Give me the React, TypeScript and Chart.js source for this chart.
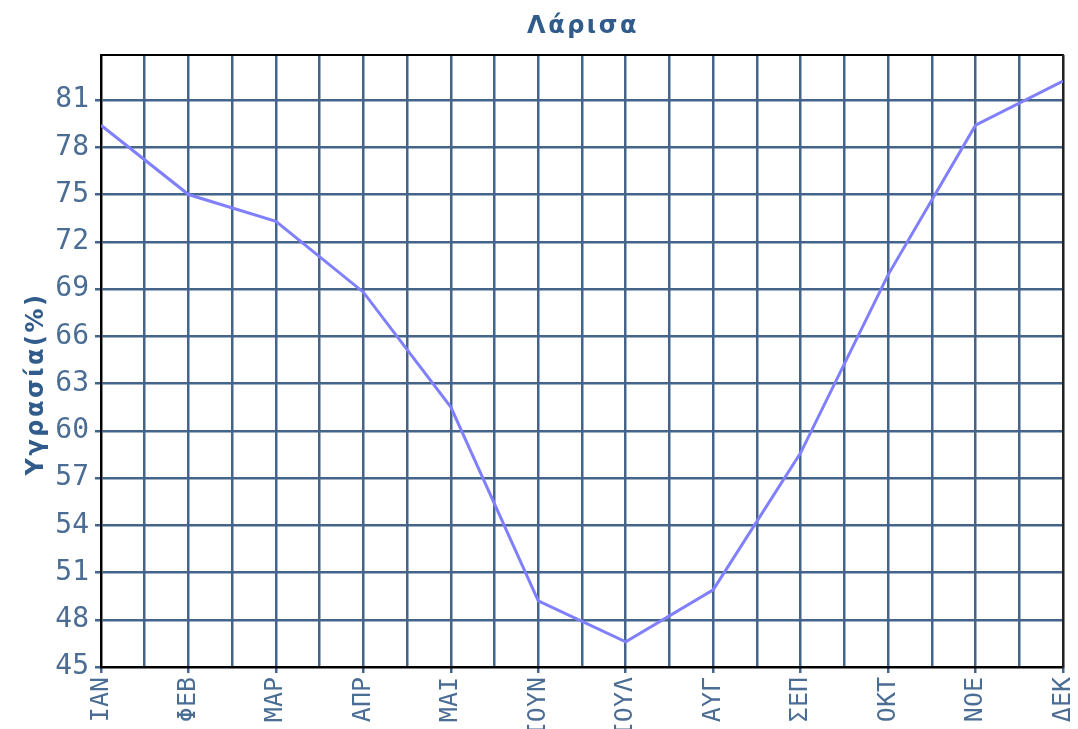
import React, { useEffect, useRef } from "react";
import { Chart, registerables } from "chart.js";

Chart.register(...registerables);

const chartTitle = "Λάρισα";
const yTitle = "Υγρασία(%)";
const months = ["ΙΑΝ", "ΦΕΒ", "ΜΑΡ", "ΑΠΡ", "ΜΑΙ", "ΙΟΥΝ", "ΙΟΥΛ", "ΑΥΓ", "ΣΕΠ", "ΟΚΤ", "ΝΟΕ", "ΔΕΚ"];
const humidity = [79.4, 75.0, 73.3, 68.8, 61.5, 49.2, 46.6, 49.9, 58.6, 69.9, 79.4, 82.2];
const yMin = 45;
const yMax = 83.86;
const yStep = 3;

const gridColor = "#45648a";
const tickColor = "#4b6d94";
const titleColor = "#305b8a";
const lineColor = "#8080ff";

const titlesPlugin = {
  id: "customTitles",
  afterDraw(chart: any) {
    const { ctx, chartArea } = chart;
    ctx.save();
    ctx.fillStyle = titleColor;
    ctx.font = 'bold 24px "DejaVu Sans"';
    (ctx as any).letterSpacing = "2.5px";
    ctx.textAlign = "center";
    ctx.textBaseline = "alphabetic";
    ctx.fillText(chartTitle, (chartArea.left + chartArea.right) / 2 + 1, chartArea.top - 22);
    ctx.restore();

    ctx.save();
    ctx.fillStyle = titleColor;
    ctx.font = 'bold 24px "DejaVu Sans"';
    (ctx as any).letterSpacing = "2.5px";
    ctx.textAlign = "center";
    ctx.textBaseline = "alphabetic";
    ctx.translate(chartArea.left - 58, (chartArea.top + chartArea.bottom) / 2 + 23);
    ctx.rotate(-Math.PI / 2);
    ctx.fillText(yTitle, 0, 0);
    ctx.restore();
  },
};

export default function App() {
  const ref = useRef<HTMLCanvasElement | null>(null);

  useEffect(() => {
    if (!ref.current) return;
    const chart = new Chart(ref.current, {
      type: "line",
      data: {
        datasets: [
          {
            data: humidity.map((v, i) => ({ x: i, y: v })),
            borderColor: lineColor,
            borderWidth: 3,
            pointRadius: 0,
            tension: 0,
            fill: false,
          },
        ],
      },
      options: {
        animation: false,
        responsive: false,
        devicePixelRatio: 1,
        layout: { padding: { top: 55, right: 15, left: 0, bottom: 0 } },
        plugins: {
          legend: { display: false },
          tooltip: { enabled: false },
          title: { display: false },
        },
        scales: {
          x: {
            type: "linear",
            position: "bottom",
            min: 0,
            max: months.length - 1,
            afterFit: (s: any) => {
              s.height = 62;
            },
            ticks: {
              stepSize: 0.5,
              autoSkip: false,
              minRotation: 90,
              maxRotation: 90,
              padding: 4,
              color: tickColor,
              font: { family: '"DejaVu Sans Mono"', size: 25, lineHeight: 0 },
              callback: (v: any) => (Number.isInteger(v) ? months[v] : ""),
            },
            grid: {
              color: (c: any) =>
                c.tick && (c.tick.value === 0 || c.tick.value === months.length - 1) ? "#111" : gridColor,
              lineWidth: 2.5,
              tickLength: 6,
              tickColor: (c: any) => (c.tick && Number.isInteger(c.tick.value) ? gridColor : "rgba(0,0,0,0)"),
            },
            border: { color: "#000", width: 2 },
          },
          x2: {
            type: "linear",
            position: "top",
            min: 0,
            max: 1,
            afterFit: (s: any) => {
              s.height = 0;
            },
            ticks: { display: false },
            grid: { display: false },
            border: { display: true, color: "#000", width: 2 },
          },
          y: {
            type: "linear",
            position: "left",
            min: yMin,
            max: yMax,
            afterFit: (s: any) => {
              s.width = 101;
            },
            ticks: {
              stepSize: yStep,
              includeBounds: false,
              padding: 6,
              color: tickColor,
              font: { family: '"DejaVu Sans Mono"', size: 28 },
            },
            grid: {
              color: (c: any) => (c.tick && c.tick.value === yMin ? "#000" : gridColor),
              lineWidth: 2.5,
              tickLength: 6,
              tickColor: gridColor,
            },
            border: { color: "#000", width: 2 },
          },
          y2: {
            type: "linear",
            position: "right",
            min: 0,
            max: 1,
            afterFit: (s: any) => {
              s.width = 0;
            },
            ticks: { display: false },
            grid: { display: false },
            border: { display: true, color: "#222", width: 2 },
          },
        },
      } as any,
      plugins: [titlesPlugin],
    });
    return () => chart.destroy();
  }, []);

  return (
    <div
      style={{
        position: "fixed",
        left: 0,
        top: 0,
        width: 1078,
        height: 729,
        overflow: "hidden",
        background: "#ffffff",
      }}
    >
      <canvas ref={ref} width={1078} height={729} style={{ display: "block", width: 1078, height: 729 }} />
    </div>
  );
}
